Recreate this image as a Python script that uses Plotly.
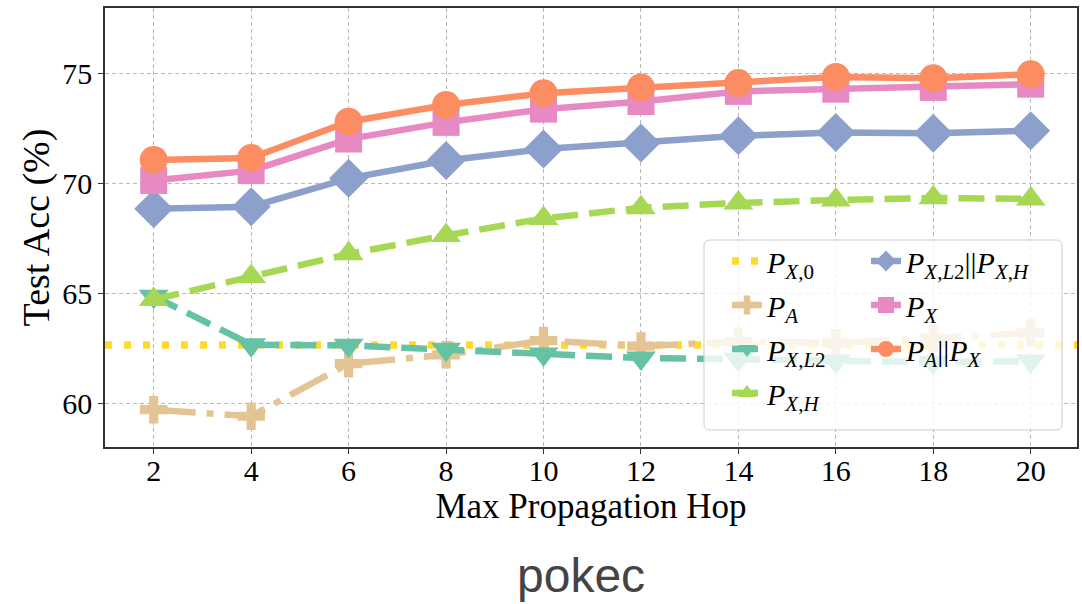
import plotly.graph_objects as go

hops = [2, 4, 6, 8, 10, 12, 14, 16, 18, 20]

p_x0 = 62.65
p_a = [59.7, 59.4, 61.8, 62.2, 62.85, 62.6, 62.8, 62.75, 62.95, 63.2]
p_xl2 = [64.87, 62.66, 62.63, 62.45, 62.24, 62.05, 62.0, 61.92, 61.86, 61.92]
p_xh = [64.72, 65.77, 66.8, 67.64, 68.41, 68.9, 69.12, 69.25, 69.35, 69.3]
p_xl2_xh = [68.85, 68.95, 70.24, 71.05, 71.58, 71.85, 72.18, 72.33, 72.29, 72.41]
p_x = [70.14, 70.59, 72.03, 72.79, 73.39, 73.74, 74.2, 74.3, 74.38, 74.53]
p_a_px = [71.08, 71.17, 72.82, 73.58, 74.12, 74.38, 74.58, 74.86, 74.8, 74.98]

y_ticks = [60, 65, 70, 75]
x_range = [1.0, 20.95]
y_range = [58, 78]

LW = 6.5
fig = go.Figure()

fig.add_trace(go.Scatter(
    x=x_range, y=[p_x0, p_x0], mode="lines",
    line=dict(color="#ffd92f", width=7.5, dash="7px,12px"),
    name="<i>P</i><sub><i>X</i>,0</sub>", legend="legend", legendgroup="a",
))
fig.add_trace(go.Scatter(
    x=hops, y=p_a, mode="lines+markers",
    line=dict(color="#e5c494", width=LW, dash="42px,11px,7px,11px"),
    marker=dict(symbol="cross", size=23, color="#e5c494"),
    name="<i>P</i><sub><i>A</i></sub>", legend="legend", legendgroup="b",
))
fig.add_trace(go.Scatter(
    x=hops, y=p_xl2, mode="lines+markers",
    line=dict(color="#66c2a5", width=LW, dash="26px,11px"),
    marker=dict(symbol="triangle-down", size=26, color="#66c2a5"),
    name="<i>P</i><sub><i>X</i>,<i>L</i>2</sub>", legend="legend", legendgroup="c",
))
fig.add_trace(go.Scatter(
    x=hops, y=p_xh, mode="lines+markers",
    line=dict(color="#a6d854", width=LW, dash="26px,11px"),
    marker=dict(symbol="triangle-up", size=26, color="#a6d854"),
    name="<i>P</i><sub><i>X</i>,<i>H</i></sub>", legend="legend", legendgroup="d",
))
fig.add_trace(go.Scatter(
    x=hops, y=p_xl2_xh, mode="lines+markers",
    line=dict(color="#8da0cb", width=LW),
    marker=dict(symbol="diamond", size=30, color="#8da0cb"),
    name="<i>P</i><sub><i>X</i>,<i>L</i>2</sub>||<i>P</i><sub><i>X</i>,<i>H</i></sub>",
    legend="legend2", legendgroup="e",
))
fig.add_trace(go.Scatter(
    x=hops, y=p_x, mode="lines+markers",
    line=dict(color="#e78ac3", width=LW),
    marker=dict(symbol="square", size=27, color="#e78ac3"),
    name="<i>P</i><sub><i>X</i></sub>", legend="legend2", legendgroup="f",
))
fig.add_trace(go.Scatter(
    x=hops, y=p_a_px, mode="lines+markers",
    line=dict(color="#fc8d62", width=LW),
    marker=dict(symbol="circle", size=28, color="#fc8d62"),
    name="<i>P</i><sub><i>A</i></sub>||<i>P</i><sub><i>X</i></sub>",
    legend="legend2", legendgroup="g",
))

serif = "Liberation Serif, Times New Roman, serif"
W, H = 1082, 604
L, R, T, B = 105, 5, 8, 157
pw, ph = W - L - R, H - T - B

def px(xp):
    return (xp - L) / pw

def py(yp):
    return (H - B - yp) / ph

# legend frame (rounded, semi-transparent)
x0, x1, y0, y1 = px(704), px(1062), py(430), py(240)
rx, ry = 6 / pw, 6 / ph
path = (f"M {x0+rx},{y0} L {x1-rx},{y0} Q {x1},{y0} {x1},{y0+ry} "
        f"L {x1},{y1-ry} Q {x1},{y1} {x1-rx},{y1} L {x0+rx},{y1} "
        f"Q {x0},{y1} {x0},{y1-ry} L {x0},{y0+ry} Q {x0},{y0} {x0+rx},{y0} Z")
fig.add_shape(type="path", path=path, xref="paper", yref="paper",
              line=dict(color="#cccccc", width=1), fillcolor="rgba(255,255,255,0.8)",
              layer="above")

legend_common = dict(
    bgcolor="rgba(0,0,0,0)", borderwidth=0,
    font=dict(family=serif, size=30, color="#000"),
    traceorder="grouped", tracegroupgap=2, itemsizing="trace",
    xanchor="left", yanchor="top",
)

axis_common = dict(
    showgrid=True, gridcolor="#b8b8b8", griddash="4px,3px", gridwidth=1,
    showline=True, linecolor="#333", linewidth=1.5, mirror=True,
    ticks="outside", ticklen=5, tickcolor="#333",
    tickfont=dict(family=serif, size=30),
    zeroline=False, automargin=False,
)

fig.update_layout(
    width=W, height=H,
    margin=dict(l=L, r=R, t=T, b=B),
    paper_bgcolor="white", plot_bgcolor="white",
    showlegend=True,
    legend=dict(x=px(727), y=py(235), **legend_common),
    legend2=dict(x=px(866), y=py(235), **legend_common),
    font=dict(family=serif, size=30, color="#000"),
    xaxis=dict(
        range=x_range, tickmode="array", tickvals=hops,
        ticktext=[str(h) for h in hops],
        ticklabelstandoff=-9,
        title=dict(text="Max Propagation Hop", font=dict(family=serif, size=35), standoff=0),
        **axis_common,
    ),
    yaxis=dict(
        range=y_range, tickmode="array", tickvals=y_ticks,
        ticktext=[str(t) for t in y_ticks],
        title=dict(text="Test Acc (%)", font=dict(family=serif, size=38), standoff=1),
        **axis_common,
    ),
    annotations=[dict(
        text="pokec", xref="paper", yref="paper", x=px(581), y=py(575),
        xanchor="center", yanchor="middle", showarrow=False,
        font=dict(family="Liberation Sans, Arial, sans-serif", size=48, color="#444"),
    )],
)

fig.write_html("out.html", post_script="document.body.style.margin='0';",
               config={"displayModeBar": False})
